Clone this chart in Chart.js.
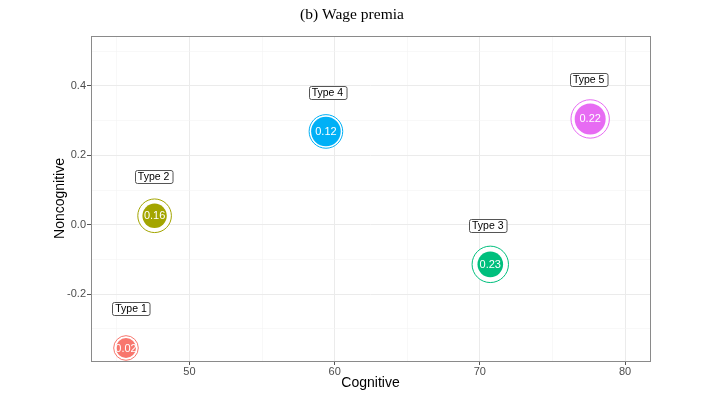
<!DOCTYPE html>
<html><head><meta charset="utf-8">
<script src="https://cdn.jsdelivr.net/npm/chart.js@4/dist/chart.umd.min.js"></script>
<style>html,body{margin:0;padding:0;background:#fff}#wrap{width:715px;height:395px}</style>
</head><body><div id="wrap"><canvas id="c" width="715" height="395"></canvas></div>
<script>
// ---- data ----
const types = ["Type 1","Type 2","Type 3","Type 4","Type 5"];
const cognitive = [45.63, 47.6, 70.72, 59.4, 77.6];
const noncognitive = [-0.355, 0.026, -0.114, 0.269, 0.305];
const premia = ["0.02","0.16","0.23","0.12","0.22"];
const xTickLabels = [50, 60, 70, 80];
const yTickLabels = [-0.2, 0.0, 0.2, 0.4];

// ---- style ----
const colors = ["#F8766D","#A3A500","#00BF7D","#00B0F6","#E76BF3"];
const innerR = [10, 12.2, 12.8, 14.8, 15.5];
const outerR = [12.3, 16.8, 18.2, 16.8, 19.2];
const labelDx = [5, -1, -2.5, 1.5, -1.5];
const labelDy = 39;

const innerData = cognitive.map((x,i)=>({x:x,y:noncognitive[i],r:innerR[i]}));
const outerData = cognitive.map((x,i)=>({x:x,y:noncognitive[i],r:outerR[i]}));
const SANS='"Liberation Sans", Arial, sans-serif';

const decor = {
  id:'decor',
  beforeDraw(chart){
    const ctx=chart.ctx;
    ctx.save();ctx.fillStyle='#fff';ctx.fillRect(0,0,chart.width,chart.height);ctx.restore();
  },
  afterDraw(chart){
    const ctx=chart.ctx, a=chart.chartArea, xs=chart.scales.x, ys=chart.scales.y;
    ctx.save();
    // panel border
    ctx.strokeStyle='#8a8a8a';ctx.lineWidth=1;
    ctx.strokeRect(Math.round(a.left)+0.5,Math.round(a.top)+0.5,Math.round(a.right-a.left),Math.round(a.bottom-a.top));
    // title
    ctx.fillStyle='#000';ctx.font='15.5px "Liberation Serif", "DejaVu Serif", serif';
    ctx.textAlign='center';ctx.textBaseline='middle';
    ctx.fillText('(b) Wage premia', 352, 15);
    // axis titles
    ctx.font='14px '+SANS;
    ctx.fillText('Cognitive', (a.left+a.right)/2, 383);
    ctx.save();ctx.translate(60,(a.top+a.bottom)/2);ctx.rotate(-Math.PI/2);
    ctx.fillText('Noncognitive',0,0);ctx.restore();
    // bubble values
    ctx.font='11px '+SANS;
    ctx.fillStyle='#fff';
    for(let i=0;i<types.length;i++){
      const px=xs.getPixelForValue(cognitive[i]), py=ys.getPixelForValue(noncognitive[i]);
      ctx.fillText(premia[i], px, py+0.5);
    }
    // type labels
    ctx.font='10.5px '+SANS;
    for(let i=0;i<types.length;i++){
      const px=xs.getPixelForValue(cognitive[i])+labelDx[i], py=ys.getPixelForValue(noncognitive[i])-labelDy;
      const w=ctx.measureText(types[i]).width+6, h=13;
      const x0=Math.round(px-w/2)+0.5, y0=Math.round(py-h/2)+0.5;
      ctx.beginPath();
      if(ctx.roundRect) ctx.roundRect(x0,y0,w,h,2); else ctx.rect(x0,y0,w,h);
      ctx.fillStyle='#fff';ctx.fill();
      ctx.strokeStyle='#555';ctx.lineWidth=1;ctx.stroke();
      ctx.fillStyle='#000';ctx.fillText(types[i], px, py+0.5);
    }
    ctx.restore();
  }
};

function isMajor(v, step){ const k=Math.round(v/step*1000)/1000; return Math.abs(k-Math.round(k))<1e-6; }

new Chart(document.getElementById('c'),{
  type:'bubble',
  data:{datasets:[
    {data:innerData, order:0, backgroundColor:colors, borderColor:colors, borderWidth:0, hoverRadius:0},
    {data:outerData, order:1, backgroundColor:'#ffffff', borderColor:colors, borderWidth:1, hoverRadius:0}
  ]},
  options:{
    responsive:false, animation:false, events:[],
    layout:{padding:{top:36,left:0,right:65,bottom:0}},
    plugins:{legend:{display:false},tooltip:{enabled:false},title:{display:false}},
    scales:{
      x:{type:'linear',min:43.22,max:81.72,
        afterFit(s){s.height=34;},
        border:{display:false},
        grid:{drawTicks:true,tickLength:4,
          color:(c)=>isMajor(c.tick.value,10)?'#ebebeb':'#f3f3f3',
          lineWidth:(c)=>isMajor(c.tick.value,10)?1:0.6,
          tickColor:(c)=>isMajor(c.tick.value,10)?'#555':'rgba(0,0,0,0)'},
        ticks:{stepSize:5,includeBounds:false,autoSkip:false,maxRotation:0,padding:0,color:'#4d4d4d',
          font:{family:SANS,size:11},
          callback:(v)=>xTickLabels.includes(Math.round(v))&&isMajor(v,10)?String(Math.round(v)):''},
        title:{display:false}
      },
      y:{type:'linear',min:-0.3925,max:0.544,
        afterFit(s){s.width=91;},
        border:{display:false},
        grid:{drawTicks:true,tickLength:4,
          color:(c)=>isMajor(c.tick.value,0.2)?'#ebebeb':'#f3f3f3',
          lineWidth:(c)=>isMajor(c.tick.value,0.2)?1:0.6,
          tickColor:(c)=>isMajor(c.tick.value,0.2)?'#555':'rgba(0,0,0,0)'},
        ticks:{stepSize:0.1,includeBounds:false,autoSkip:false,padding:1,color:'#4d4d4d',
          font:{family:SANS,size:11},
          callback:(v)=>{ if(!isMajor(v,0.2)) return ''; const r=Math.round(v*10)/10;
            return yTickLabels.some(t=>Math.abs(t-r)<1e-6)?(r===0?'0.0':r.toFixed(1)):''; }},
        title:{display:false}
      }
    }
  },
  plugins:[decor]
});
</script></body></html>
